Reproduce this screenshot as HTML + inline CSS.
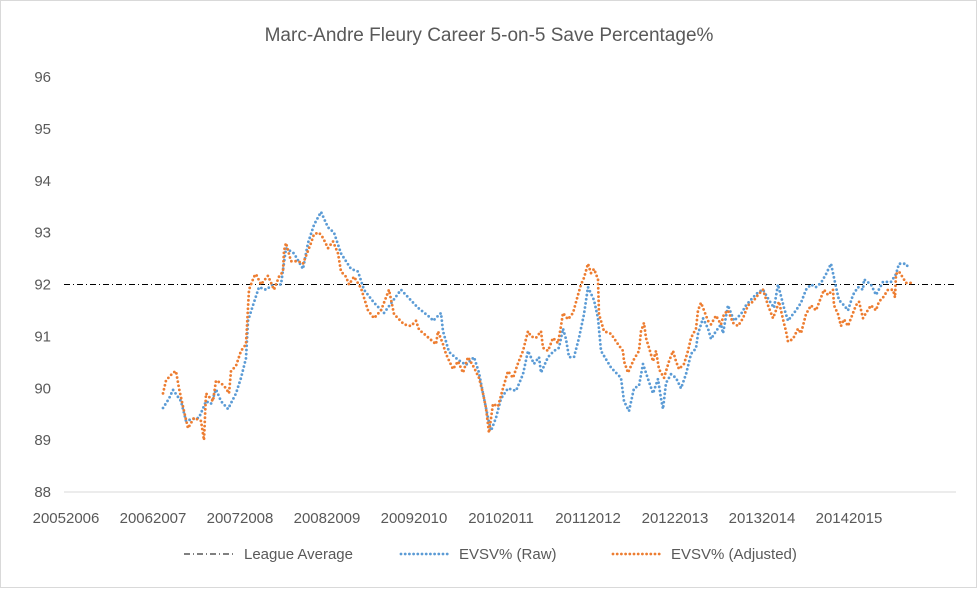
<!DOCTYPE html>
<html><head><meta charset="utf-8"><style>
html,body{margin:0;padding:0;background:#fff}
#wrap{width:977px;height:588px;position:relative;box-sizing:border-box;border:1px solid #d9d9d9;background:#fff}
svg text{font-family:"Liberation Sans",Arial,sans-serif;fill:#595959}
</style></head><body>
<div id="wrap">
<svg id="chart" width="975" height="586">
<text x="488" y="40" text-anchor="middle" font-size="19">Marc-Andre Fleury Career 5-on-5 Save Percentage%</text>
<g id="yaxis"></g>
<g id="xaxis"></g>
<g id="series"></g>
<g>
<g>
<line x1="183" y1="553" x2="235" y2="553" stroke="#000" stroke-width="1" stroke-dasharray="6 3 1 3"/>
<text x="243" y="558" font-size="15">League Average</text></g>
<g>
<line x1="400" y1="553" x2="450" y2="553" stroke="#5B9BD5" stroke-width="2.8" stroke-linecap="round" stroke-dasharray="0 4.2"/>
<text x="458" y="558" font-size="15">EVSV% (Raw)</text></g>
<g>
<line x1="612" y1="553" x2="662" y2="553" stroke="#ED7D31" stroke-width="2.8" stroke-linecap="round" stroke-dasharray="0 4.2"/>
<text x="670" y="558" font-size="15">EVSV% (Adjusted)</text></g>
</g>
</svg></div>
<script>
const seasonLabels=["20052006","20062007","20072008","20082009","20092010","20102011","20112012","20122013","20132014","20142015"];
const yTicks=[88,89,90,91,92,93,94,95,96];
const leagueAverage=92;
const rawGames=[97,103,107,115,120,125,133,140,145,150,155,162,170,175,180,182,187,193,200,207,215,220,228,237,242,248,255,262,268,275,285,292,298,308,318,335,352,365,367,375,377,383,392,400,408,413,417,422,425,430,435,442,450,457,462,468,473,475,482,488,493,497,500,503,508,513,518,522,528,532,535,545,555,558,563,568,573,577,582,587,592,595,597,600,605,610,615,620,625,630,632,637,642,645,650,655,657,662,668,675,680,687,692,697,703,708,712,718,722,727,730,735,740,745,750,755,760,765,770,773,778,782,787,792,797,798,805,810,817,825,830,833,840,843];
const rawValues=[89.62,89.8,89.97,89.75,89.37,89.4,89.43,89.75,89.7,89.98,89.75,89.6,89.9,90.2,90.58,91.3,91.6,91.95,91.9,92.0,92.0,92.7,92.6,92.3,92.8,93.15,93.4,93.1,93.0,92.6,92.3,92.25,91.9,91.65,91.45,91.9,91.55,91.35,91.3,91.45,91.1,90.7,90.55,90.45,90.6,90.3,89.9,89.43,89.18,89.43,89.8,90.0,89.95,90.27,90.72,90.47,90.6,90.3,90.6,90.72,90.78,91.15,90.95,90.6,90.6,90.97,91.43,91.95,91.7,91.35,90.72,90.4,90.2,89.75,89.56,90.0,90.05,90.47,90.18,89.9,90.18,89.8,89.6,90.1,90.27,90.2,90.0,90.27,90.66,90.77,91.05,91.35,91.15,90.95,91.1,91.23,91.06,91.6,91.3,91.43,91.6,91.75,91.85,91.9,91.7,91.55,92.0,91.55,91.3,91.43,91.5,91.65,91.9,92.0,91.95,92.03,92.2,92.4,91.95,91.7,91.6,91.5,91.8,91.95,91.9,92.1,92.0,91.8,92.05,92.05,92.2,92.4,92.4,92.3];
const adjGames=[97,100,107,110,113,118,122,128,135,138,140,147,150,155,160,163,165,170,175,180,182,183,188,190,195,202,208,213,217,218,220,225,232,237,242,245,248,253,257,262,267,272,275,280,283,288,295,302,308,315,323,328,332,338,345,350,353,358,367,370,372,377,380,387,392,397,402,408,413,417,420,423,427,432,437,442,447,452,457,462,465,470,475,477,482,487,492,495,497,502,507,512,515,518,522,525,528,532,533,538,545,552,557,558,562,565,568,573,575,578,580,583,587,590,593,598,603,607,610,613,618,622,625,630,632,635,638,642,645,650,655,658,662,667,672,677,682,687,692,697,702,707,710,713,717,720,722,727,732,735,740,745,750,755,758,762,767,768,772,775,778,782,785,790,793,797,800,805,810,813,817,822,827,829,830,833,837,840,845];
const adjValues=[89.9,90.15,90.3,90.33,90.0,89.56,89.23,89.43,89.37,89.0,89.9,89.75,90.15,90.1,90.0,89.9,90.33,90.43,90.72,90.85,91.55,91.9,92.15,92.2,92.0,92.17,91.9,92.15,92.25,92.65,92.8,92.45,92.45,92.4,92.65,92.8,92.97,93.0,92.9,92.7,92.83,92.6,92.25,92.15,92.0,92.15,91.93,91.5,91.35,91.5,91.9,91.43,91.35,91.23,91.2,91.3,91.13,91.05,90.9,90.85,91.1,90.85,90.66,90.37,90.52,90.3,90.6,90.4,90.2,89.9,89.62,89.14,89.7,89.65,90.0,90.33,90.2,90.48,90.72,91.1,91.0,90.97,91.1,90.78,90.72,90.97,90.87,91.2,91.45,91.33,91.45,91.8,92.0,92.13,92.4,92.22,92.3,92.1,91.43,91.1,91.05,90.85,90.72,90.52,90.3,90.43,90.56,90.72,91.1,91.26,90.97,90.78,90.52,90.72,90.37,90.2,90.52,90.72,90.52,90.37,90.47,90.72,90.97,91.15,91.5,91.65,91.5,91.3,91.23,91.4,91.23,91.43,91.5,91.26,91.2,91.35,91.6,91.67,91.8,91.9,91.6,91.35,91.5,91.67,91.33,91.1,90.9,90.95,91.15,91.06,91.43,91.6,91.5,91.75,91.9,91.8,91.9,91.6,91.43,91.2,91.33,91.2,91.35,91.6,91.67,91.35,91.45,91.6,91.5,91.67,91.75,91.9,91.9,91.75,92.2,92.25,92.13,92.03,92.03];

const NS="http://www.w3.org/2000/svg";
const plotL=65,plotR=955,yMin=88,yMax=96,yBot=491,yTop=76,seasonLen=87,seasonPx=87;
function xScale(g){return plotL+g*seasonPx/seasonLen;}
function xSeason(i){return plotL+i*seasonPx;}
function yScale(v){return yBot-(v-yMin)/(yMax-yMin)*(yBot-yTop);}
function mk(tag,attrs,parent){const e=document.createElementNS(NS,tag);for(const k in attrs)e.setAttribute(k,attrs[k]);parent.appendChild(e);return e;}
const ya=document.getElementById('yaxis'),xa=document.getElementById('xaxis'),sg=document.getElementById('series');
yTicks.forEach(v=>{const t=mk('text',{x:50,y:yScale(v)+5,'text-anchor':'end','font-size':15},ya);t.textContent=v;

});
const ax=mk('line',{x1:63,y1:yBot,x2:plotR,y2:yBot,stroke:'#d9d9d9','stroke-width':1},xa);


seasonLabels.forEach((s,i)=>{const t=mk('text',{x:xSeason(i),y:522,'text-anchor':'middle','font-size':15},xa);t.textContent=s;

});
const la=mk('line',{x1:63,y1:yScale(leagueAverage),x2:plotR,y2:yScale(leagueAverage),stroke:'#000','stroke-width':1,'stroke-dasharray':'6 3 1 3'},sg);


function series(gs,vs,color,name){const pts=gs.map((g,i)=>xScale(g).toFixed(1)+','+yScale(vs[i]).toFixed(1)).join(' ');
const p=mk('polyline',{points:pts,fill:'none',stroke:color,'stroke-width':2.8,'stroke-linecap':'round','stroke-linejoin':'round','stroke-dasharray':'0 4.2'},sg);

}
series(rawGames,rawValues,'#5B9BD5','raw-series-line');
series(adjGames,adjValues,'#ED7D31','adjusted-series-line');
</script>
</body></html>
